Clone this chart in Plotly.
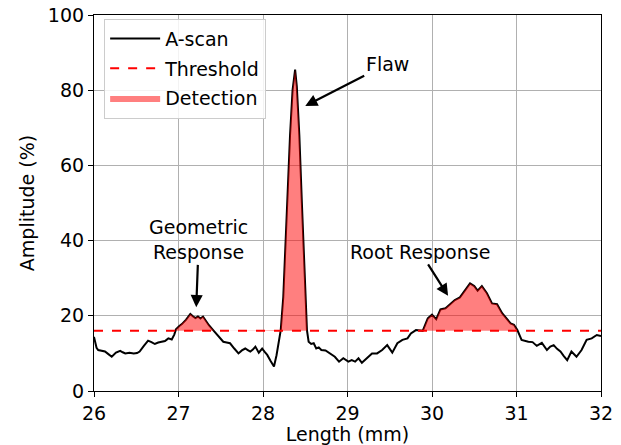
import numpy as np
import plotly.graph_objects as go

x_mm = [26.00, 26.03, 26.05, 26.10, 26.13, 26.17, 26.21, 26.26, 26.31, 26.34, 26.37, 26.42, 26.47, 26.51,
        26.54, 26.59, 26.64, 26.68, 26.72, 26.76, 26.80, 26.84, 26.88, 26.92, 26.95, 26.97, 27.01, 27.04,
        27.09, 27.14, 27.17, 27.20, 27.23, 27.26, 27.29, 27.32, 27.36, 27.41, 27.47, 27.53, 27.57, 27.61,
        27.66, 27.71, 27.75, 27.79, 27.82, 27.85, 27.88, 27.91, 27.95, 27.99, 28.02, 28.05, 28.09, 28.13,
        28.16, 28.18, 28.21, 28.24, 28.28, 28.32, 28.35, 28.38, 28.40, 28.43, 28.46, 28.49, 28.52, 28.54,
        28.57, 28.60, 28.63, 28.66, 28.69, 28.74, 28.79, 28.85, 28.90, 28.95, 29.01, 29.05, 29.09, 29.13,
        29.17, 29.23, 29.29, 29.35, 29.41, 29.47, 29.53, 29.59, 29.65, 29.71, 29.75, 29.81, 29.85, 29.89,
        29.95, 30.00, 30.05, 30.10, 30.16, 30.21, 30.27, 30.33, 30.39, 30.45, 30.50, 30.54, 30.59, 30.65,
        30.71, 30.77, 30.83, 30.89, 30.93, 30.97, 31.01, 31.06, 31.10, 31.14, 31.19, 31.24, 31.30, 31.36,
        31.40, 31.44, 31.48, 31.52, 31.56, 31.60, 31.65, 31.71, 31.77, 31.83, 31.89, 31.95, 32.00]
amplitude = [14.4, 11.5, 10.9, 10.6, 10.5, 9.8, 9.1, 10.2, 10.7, 10.3, 10.0, 10.2, 10.0, 10.1,
             10.5, 12.0, 13.4, 13.0, 12.5, 12.9, 13.1, 13.3, 14.0, 13.7, 15.0, 16.4, 17.3, 17.8,
             19.0, 20.5, 19.9, 19.4, 19.8, 19.3, 19.8, 18.8, 17.5, 16.2, 14.6, 13.1, 12.9, 12.7,
             11.3, 10.0, 10.8, 11.3, 10.9, 10.5, 11.0, 11.8, 10.2, 11.3, 10.4, 9.6, 8.0, 6.5,
             9.5, 12.5, 16.2, 25.0, 48.0, 68.0, 80.0, 85.5, 81.0, 68.0, 50.0, 32.0, 16.2, 13.1,
             12.5, 12.7, 11.3, 11.6, 10.9, 10.8, 10.0, 9.1, 7.8, 8.7, 7.8, 8.2, 7.8, 8.7,
             7.5, 8.7, 10.0, 10.0, 10.9, 12.2, 10.2, 12.7, 13.6, 14.0, 15.3, 16.2, 16.0, 16.0,
             19.3, 20.3, 19.1, 21.7, 22.0, 22.9, 24.2, 24.9, 26.9, 28.6, 27.9, 26.7, 27.9, 26.0,
             23.3, 23.1, 20.7, 18.9, 18.0, 17.6, 16.2, 13.6, 13.3, 13.1, 13.0, 12.0, 12.8, 10.9,
             11.8, 12.2, 11.2, 10.5, 9.3, 8.2, 10.5, 9.1, 10.9, 13.6, 14.0, 14.9, 14.6]
threshold = 16.0
x_ticks = [26, 27, 28, 29, 30, 31, 32]
y_ticks = [0, 20, 40, 60, 80, 100]

xa = np.array(x_mm)
ya = np.array(amplitude)

# build detection polygon with crossing points inserted
fx, fy = [], []
for i in range(len(xa)):
    if i > 0:
        d0, d1 = ya[i-1] - threshold, ya[i] - threshold
        if d0 * d1 < 0:
            t = d0 / (d0 - d1)
            fx.append(xa[i-1] + t * (xa[i] - xa[i-1]))
            fy.append(threshold)
    fx.append(xa[i])
    fy.append(max(ya[i], threshold))
poly_x = fx + fx[::-1]
poly_y = fy + [threshold] * len(fx)

font = "DejaVu Sans, Verdana, sans-serif"
FS = 19
fig = go.Figure()
fig.add_trace(go.Scatter(x=xa, y=ya, mode="lines", name="A-scan",
                         line=dict(color="black", width=2), legendgroup="a"))
fig.add_trace(go.Scatter(x=[26, 32], y=[threshold, threshold], mode="lines", name="Threshold",
                         line=dict(color="red", width=2, dash="dash"), legendgroup="b"))
fig.add_trace(go.Scatter(x=poly_x, y=poly_y, mode="lines", fill="toself", name="Detection",
                         line=dict(width=0, color="rgba(255,0,0,0)"),
                         fillcolor="rgba(255,0,0,0.5)", legendgroup="c"))

ann_font = dict(family=font, size=FS, color="black")
arrow = dict(showarrow=True, arrowhead=2, arrowsize=1.1, arrowwidth=2.2, arrowcolor="black",
             axref="x", ayref="y", xref="x", yref="y", font=ann_font)
fig.add_annotation(x=28.50, y=75.8, ax=29.47, ay=87.0, text="Flaw", **arrow)
fig.add_annotation(x=27.21, y=22.3, ax=27.24, ay=40.2, text="Geometric<br>Response", **arrow)
fig.add_annotation(x=30.19, y=25.3, ax=29.86, ay=37.0, text="Root Response", **arrow)

axis_common = dict(showgrid=True, gridcolor="#b0b0b0", gridwidth=0.8, showline=True,
                   linecolor="black", linewidth=1.2, mirror=True, ticks="outside", ticklen=5,
                   tickcolor="black", zeroline=False, automargin=False,
                   tickfont=dict(family=font, size=FS, color="black"))
fig.update_xaxes(range=[26, 32], tickvals=x_ticks, title=dict(text="Length (mm)",
                 font=dict(family=font, size=FS, color="black"), standoff=2), **axis_common)
fig.update_yaxes(range=[0, 100], tickvals=y_ticks, title=dict(text="Amplitude (%)",
                 font=dict(family=font, size=FS, color="black"), standoff=8), **axis_common)

fig.update_layout(width=621, height=445, margin=dict(l=94, r=20, t=15, b=54),
                  plot_bgcolor="white", paper_bgcolor="white",
                  legend=dict(x=0.02, y=0.99, xanchor="left", yanchor="top",
                              bgcolor="rgba(255,255,255,0.85)", bordercolor="#cccccc", borderwidth=1,
                              font=dict(family=font, size=FS, color="black"),
                              traceorder="grouped", tracegroupgap=2, itemwidth=50),
                  showlegend=True)
fig.write_html("out.html")
